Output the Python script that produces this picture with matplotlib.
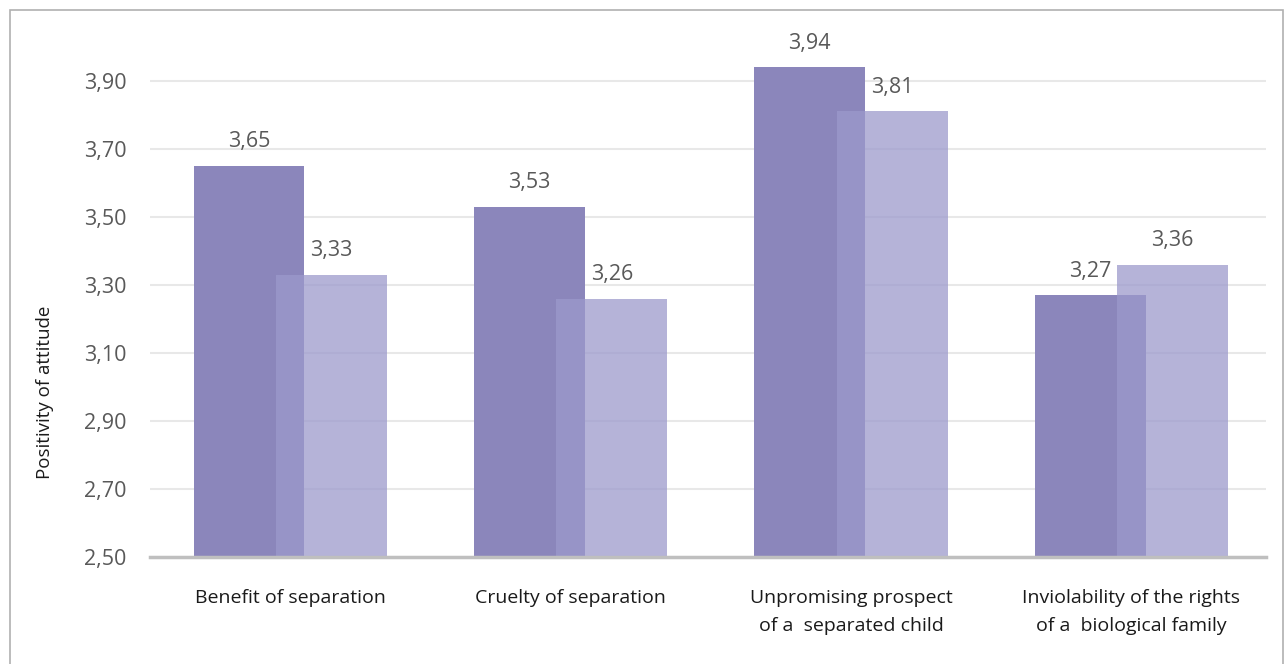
import matplotlib
matplotlib.use('Agg')
import matplotlib.pyplot as plt
from matplotlib.patches import Rectangle
import numpy as np

plt.rcParams['font.family'] = ['Open Sans', 'DejaVu Sans']

categories = ['Benefit of separation', 'Cruelty of separation',
              'Unpromising prospect\nof a  separated child',
              'Inviolability of the rights\nof a  biological family']
series_a = [3.65, 3.53, 3.94, 3.27]
series_b = [3.33, 3.26, 3.81, 3.36]
yticks = [2.50, 2.70, 2.90, 3.10, 3.30, 3.50, 3.70, 3.90]

dark = '#8b86bb'
light = '#9c9acc'

fig = plt.figure(figsize=(12.86, 6.64), dpi=100)
ax = fig.add_axes([0.1166, 0.1611, 0.8678, 0.794])

x = np.arange(len(categories))
w = 0.395
off = 0.147
ax.bar(x - off, [v - 2.5 for v in series_a], w, bottom=2.5, color=dark, zorder=2)
ax.bar(x + off, [v - 2.5 for v in series_b], w, bottom=2.5, color=light, alpha=0.75, zorder=3)

def fmt(v):
    return ('%.2f' % v).replace('.', ',')

for xi, v in zip(x - off, series_a):
    ax.text(xi, v + 0.04, fmt(v), ha='center', va='bottom', fontsize=15.5, color='#595959')
for xi, v in zip(x + off, series_b):
    ax.text(xi, v + 0.04, fmt(v), ha='center', va='bottom', fontsize=15.5, color='#595959')

ax.set_ylim(2.5, 4.05)
ax.set_xlim(-0.5, 3.48)
ax.set_yticks(yticks)
ax.set_yticklabels([fmt(t) for t in yticks], fontsize=15.5, color='#595959')
ax.set_xticks(x)
ax.set_xticklabels(categories, fontsize=14, color='#1a1a1a', linespacing=1.75)
ax.tick_params(axis='both', length=0)
ax.tick_params(axis='y', pad=17)
ax.tick_params(axis='x', pad=23)
fig.text(45 / 1286, 1 - 392 / 664, 'Positivity of attitude', rotation=90,
         ha='center', va='center', fontsize=13.5, color='#1a1a1a')

ax.grid(axis='y', color='#e8e8e8', linewidth=1.5, zorder=0)
ax.set_axisbelow(True)
for s in ['top', 'right', 'left']:
    ax.spines[s].set_visible(False)
ax.spines['bottom'].set_color('#bfbfbf')
ax.spines['bottom'].set_linewidth(2.5)
ax.spines['bottom'].set_zorder(4)

fig.patches.append(Rectangle((10 / 1286, -0.01), 1273 / 1286, 1 - 10 / 664 + 0.01,
                             transform=fig.transFigure, fill=False,
                             edgecolor='#b0b0b0', linewidth=1.2))

fig.savefig('out.png', dpi=100)
